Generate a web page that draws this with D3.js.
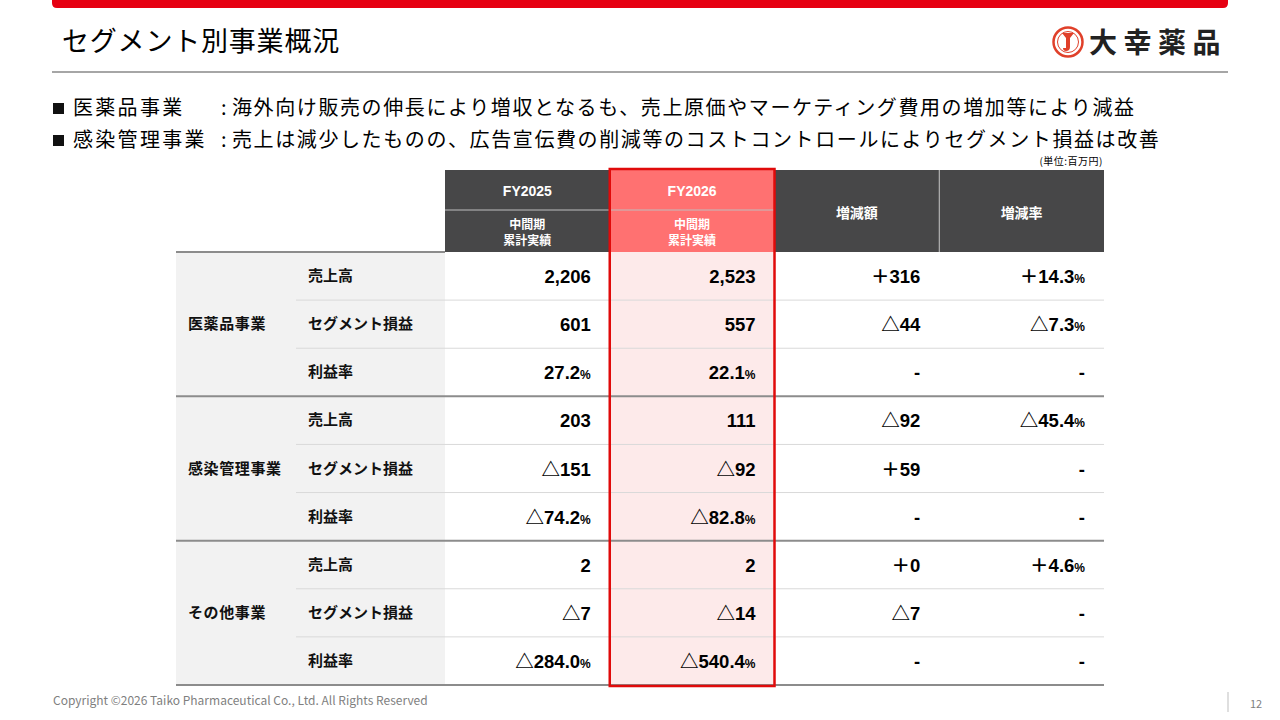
<!DOCTYPE html>
<html>
<head>
<meta charset="utf-8">
<script src="https://cdn.jsdelivr.net/npm/d3@7"></script>
<style>
  html, body { margin: 0; padding: 0; background: #fff; }
  svg { display: block; }
  text { font-family: "Noto Sans CJK JP", "Noto Sans", sans-serif; }
  .num { font-family: "Liberation Sans", Arial, "Noto Sans CJK JP", sans-serif; font-weight: bold; }
</style>
</head>
<body>
<svg id="chart" width="1280" height="720"></svg>
<script>
// ---------- Data ----------
const segments = ['医薬品事業', '感染管理事業', 'その他事業'];
const items = ['売上高', 'セグメント損益', '利益率'];
const columns = ['FY2025', 'FY2026', '増減額', '増減率'];
const subHeader = ['中間期', '累計実績'];

// one value per row (segment x item), rates in %
const fy2025 = [2206, 601, 27.2, 203, -151, -74.2, 2, -7, -284.0];
const fy2026 = [2523, 557, 22.1, 111, -92, -82.8, 2, -14, -540.4];
const diffAmount = [316, -44, null, -92, 59, null, 0, -7, null];
const diffRate = [14.3, -7.3, null, -45.4, null, null, 4.6, null, null];

const bullets = [
  ['医薬品事業', '海外向け販売の伸長により増収となるも、売上原価やマーケティング費用の増加等により減益'],
  ['感染管理事業', '売上は減少したものの、広告宣伝費の削減等のコストコントロールによりセグメント損益は改善']
];

// ---------- Helpers ----------
const fmtInt = d3.format(',');
const fmt1 = d3.format('.1f');
const tri = '△';

function cell(v, isRate, signed) {
  if (v == null) return { main: '-', pct: false };
  const neg = v < 0;
  const abs = Math.abs(v);
  const body = isRate ? fmt1(abs) : fmtInt(abs);
  const prefix = neg ? tri : (signed ? '＋' : '');
  return { main: prefix + body, pct: isRate };
}

const svg = d3.select('#chart');

// ---------- Slide chrome ----------
svg.append('path')
  .attr('d', 'M52,0 H1228 V3 Q1228,8 1223,8 H57 Q52,8 52,3 Z')
  .attr('fill', '#e60012');

svg.append('text')
  .attr('x', 62).attr('y', 51)
  .attr('font-size', 27)
  .attr('letter-spacing', 0.8)
  .attr('fill', '#000')
  .text('セグメント別事業概況');

svg.append('line')
  .attr('x1', 52).attr('x2', 1228)
  .attr('y1', 72).attr('y2', 72)
  .attr('stroke', '#a6a6a6').attr('stroke-width', 2);

// Logo
const logo = svg.append('g').attr('transform', 'translate(1068,42)');
logo.append('circle').attr('r', 14.5).attr('fill', '#fff').attr('stroke', '#e0402a').attr('stroke-width', 2.5);
logo.append('circle').attr('r', 10.5).attr('fill', 'none').attr('stroke', '#e0402a').attr('stroke-width', 1);
logo.append('path')
  .attr('d', 'M-6,-9 L6,-9 L2,-4 L2,5 Q2,9 -2,9 Q-5,9 -5,6 L-2,6 L-2,-4 Z')
  .attr('fill', '#e0402a');
svg.append('text')
  .attr('x', 1089).attr('y', 53)
  .attr('font-size', 28).attr('font-weight', 'bold')
  .attr('letter-spacing', 6.5)
  .attr('fill', '#222')
  .text('大幸薬品');

// Bullets
const bulletG = svg.append('g');
bullets.forEach((b, i) => {
  const y = 115 + i * 32;
  bulletG.append('rect').attr('x', 53).attr('y', y - 12).attr('width', 11).attr('height', 11).attr('fill', '#111');
  bulletG.append('text').attr('x', 73).attr('y', y).attr('font-size', 20)
    .attr('letter-spacing', 2.3).attr('fill', '#000').text(b[0]);
  bulletG.append('text').attr('x', 221).attr('y', y).attr('font-size', 20).attr('fill', '#000').text(':');
  bulletG.append('text').attr('x', 232).attr('y', y).attr('font-size', 20)
    .attr('letter-spacing', 1.6).attr('fill', '#000').text(b[1]);
});

svg.append('text')
  .attr('x', 1103).attr('y', 165)
  .attr('text-anchor', 'end')
  .attr('font-size', 10)
  .attr('letter-spacing', 0.5)
  .attr('fill', '#000')
  .text('(単位:百万円)');

// ---------- Table scales ----------
const tableLeft = 176, itemLeft = 296, dataLeft = 445, tableRight = 1104;
const headTop = 170, headMid = 210, bodyTop = 252, bodyBottom = 685;

const x = d3.scaleBand().domain(columns).range([dataLeft, tableRight]);
const rowIdx = d3.range(segments.length * items.length);
const y = d3.scaleBand().domain(rowIdx).range([bodyTop, bodyBottom]);

const table = svg.append('g');

// Left label backgrounds
table.append('rect')
  .attr('x', tableLeft).attr('y', bodyTop)
  .attr('width', dataLeft - tableLeft).attr('height', bodyBottom - bodyTop)
  .attr('fill', '#f2f2f2');

// FY2026 body tint
table.append('rect')
  .attr('x', x('FY2026')).attr('y', bodyTop)
  .attr('width', x.bandwidth()).attr('height', bodyBottom - bodyTop)
  .attr('fill', '#fdeaea');

// Header cells
table.selectAll('rect.head')
  .data(columns)
  .join('rect')
  .attr('class', 'head')
  .attr('x', d => x(d)).attr('y', headTop)
  .attr('width', x.bandwidth()).attr('height', bodyTop - headTop)
  .attr('fill', d => d === 'FY2026' ? '#ff7171' : '#474748');

// header separators
table.append('line')
  .attr('x1', x('FY2025')).attr('x2', x('FY2026') + x.bandwidth())
  .attr('y1', headMid).attr('y2', headMid)
  .attr('stroke', '#bfbfbf').attr('stroke-width', 1);
table.append('line')
  .attr('x1', x('増減率')).attr('x2', x('増減率'))
  .attr('y1', headTop).attr('y2', bodyTop)
  .attr('stroke', '#bfbfbf').attr('stroke-width', 1);

// header texts
columns.forEach(c => {
  const cx = x(c) + x.bandwidth() / 2;
  if (c === 'FY2025' || c === 'FY2026') {
    table.append('text').attr('class', 'num')
      .attr('x', cx).attr('y', 196).attr('text-anchor', 'middle')
      .attr('font-size', 14).attr('fill', '#fff').text(c);
    subHeader.forEach((s, i) => {
      table.append('text')
        .attr('x', cx).attr('y', 229 + i * 16).attr('text-anchor', 'middle')
        .attr('font-size', 12).attr('font-weight', 'bold').attr('fill', '#fff').text(s);
    });
  } else {
    table.append('text')
      .attr('x', cx).attr('y', 218).attr('text-anchor', 'middle')
      .attr('font-size', 14).attr('font-weight', 'bold').attr('fill', '#fff').text(c);
  }
});

// Row separators
rowIdx.slice(1).forEach(i => {
  const group = i % items.length === 0;
  table.append('line')
    .attr('x1', group ? tableLeft : itemLeft).attr('x2', tableRight)
    .attr('y1', y(i)).attr('y2', y(i))
    .attr('stroke', group ? '#8c8c8c' : '#d9d9d9')
    .attr('stroke-width', group ? 2 : 1);
});
table.append('line')
  .attr('x1', tableLeft).attr('x2', dataLeft)
  .attr('y1', bodyTop).attr('y2', bodyTop)
  .attr('stroke', '#8c8c8c').attr('stroke-width', 2);
table.append('line')
  .attr('x1', tableLeft).attr('x2', tableRight)
  .attr('y1', bodyBottom).attr('y2', bodyBottom)
  .attr('stroke', '#8c8c8c').attr('stroke-width', 2);

// Segment labels
segments.forEach((s, si) => {
  const top = y(si * items.length);
  const bot = y(si * items.length + items.length - 1) + y.bandwidth();
  table.append('text')
    .attr('x', 188).attr('y', (top + bot) / 2 + 5)
    .attr('font-size', 15).attr('font-weight', 'bold').attr('fill', '#111')
    .attr('letter-spacing', 0.6)
    .text(s);
});

// Item labels
rowIdx.forEach(i => {
  table.append('text')
    .attr('x', 308).attr('y', y(i) + y.bandwidth() / 2 + 5)
    .attr('font-size', 15).attr('font-weight', 'bold').attr('fill', '#111')
    .text(items[i % items.length]);
});

// Values
const series = [
  { col: 'FY2025', values: fy2025, signed: false, rateAlways: false },
  { col: 'FY2026', values: fy2026, signed: false, rateAlways: false },
  { col: '増減額', values: diffAmount, signed: true, rateAlways: false },
  { col: '増減率', values: diffRate, signed: true, rateAlways: true }
];

series.forEach(s => {
  s.values.forEach((v, i) => {
    const isRate = s.rateAlways || (i % items.length === 2);
    const c = cell(v, isRate, s.signed);
    const t = table.append('text').attr('class', 'num')
      .attr('x', x(s.col) + x.bandwidth() - 19)
      .attr('y', y(i) + y.bandwidth() / 2 + 7)
      .attr('text-anchor', 'end')
      .attr('font-size', 18.5).attr('fill', '#000');
    t.append('tspan').text(c.main);
    if (c.pct) t.append('tspan').attr('font-size', 12).text('%');
  });
});

// FY2026 highlight box
table.append('rect')
  .attr('x', x('FY2026')).attr('y', headTop - 1)
  .attr('width', x.bandwidth()).attr('height', bodyBottom - headTop + 2)
  .attr('fill', 'none').attr('stroke', '#e00a0a').attr('stroke-width', 2.5);

// ---------- Footer ----------
svg.append('text')
  .attr('x', 53).attr('y', 705)
  .attr('font-family', '"Liberation Sans", Arial, sans-serif')
  .attr('font-size', 12).attr('fill', '#7f7f7f')
  .text('Copyright ©2026   Taiko Pharmaceutical Co., Ltd. All Rights Reserved');
svg.append('line')
  .attr('x1', 1228).attr('x2', 1228).attr('y1', 692).attr('y2', 712)
  .attr('stroke', '#bfbfbf').attr('stroke-width', 1);
svg.append('text')
  .attr('x', 1250).attr('y', 708)
  .attr('font-family', '"Liberation Sans", Arial, sans-serif')
  .attr('font-size', 11).attr('fill', '#7f7f7f')
  .text('12');
</script>
</body>
</html>
